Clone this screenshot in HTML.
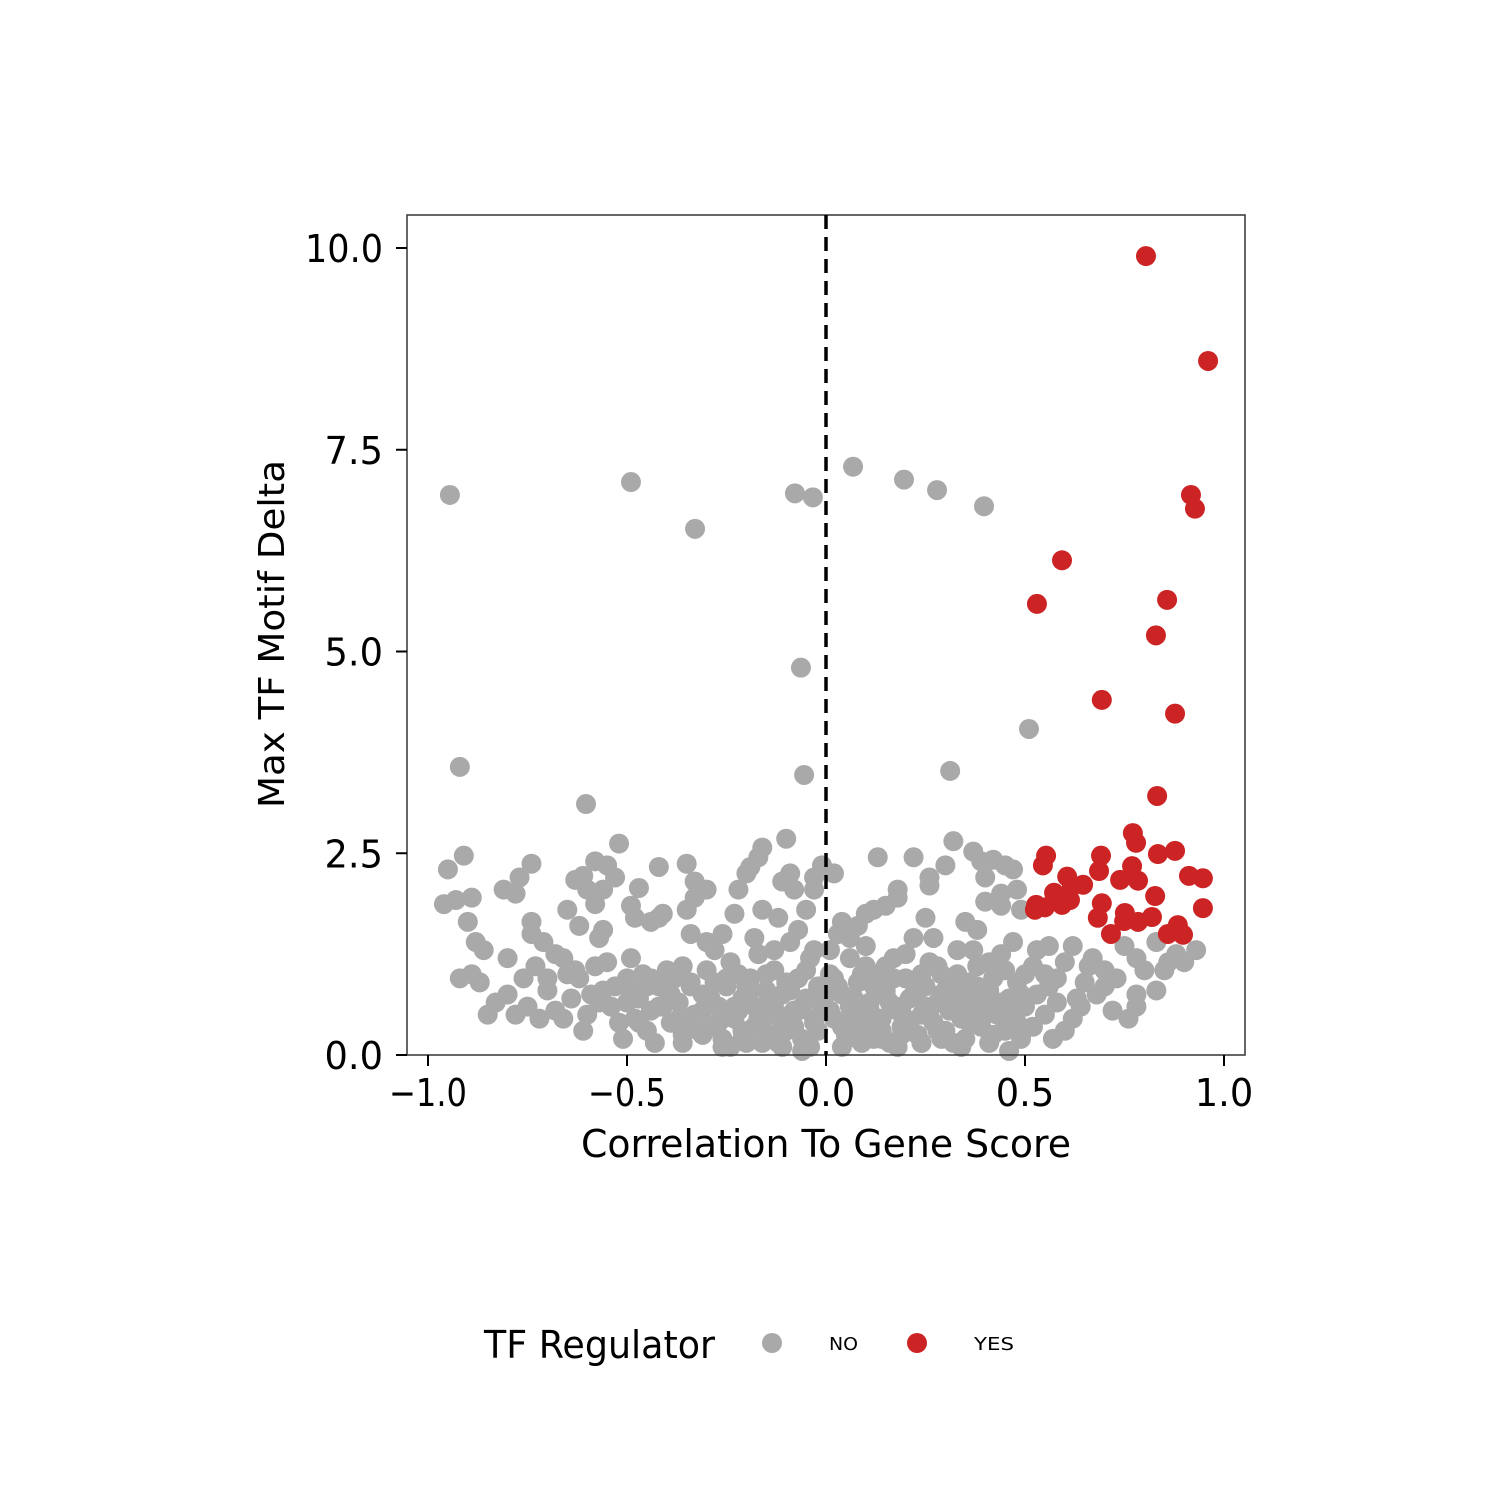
<!DOCTYPE html>
<html><head><meta charset="utf-8"><style>html,body{margin:0;padding:0;background:#fff}svg{display:block}text{font-family:"DejaVu Sans","Liberation Sans",sans-serif}</style></head>
<body>
<svg id="chart" width="1500" height="1500" xmlns="http://www.w3.org/2000/svg">
<rect width="1500" height="1500" fill="#fff"/>
<g id="points"></g>
<rect x="407" y="215" width="838" height="840" fill="none" stroke="#333" stroke-width="1.5"/>
<line x1="826" y1="215" x2="826" y2="1055" stroke="#000" stroke-width="3.5" stroke-dasharray="14,8"/>
<g id="axes"></g>
<text x="826" y="1157" font-size="38" text-anchor="middle" textLength="490" lengthAdjust="spacingAndGlyphs">Correlation To Gene Score</text>
<text transform="translate(284,634) rotate(-90)" font-size="36" text-anchor="middle" textLength="348" lengthAdjust="spacingAndGlyphs">Max TF Motif Delta</text>
<g>
<text x="484" y="1358" font-size="38" textLength="231" lengthAdjust="spacingAndGlyphs">TF Regulator</text>
<circle cx="772" cy="1343" r="10" fill="#A9A9A9"/>
<text x="829" y="1350" font-size="18" textLength="29" lengthAdjust="spacingAndGlyphs">NO</text>
<circle cx="917" cy="1343" r="10" fill="#CC2424"/>
<text x="974" y="1350" font-size="18" textLength="40" lengthAdjust="spacingAndGlyphs">YES</text>
</g>
</svg>
<script>
const xTicks = [-1.0, -0.5, 0.0, 0.5, 1.0];
const xTickLabels = ["\u22121.0", "\u22120.5", "0.0", "0.5", "1.0"];
const yTicks = [0, 2.5, 5, 7.5, 10];
const yTickLabels = ["0.0", "2.5", "5.0", "7.5", "10.0"];
const grayX = [-0.945,-0.49,-0.329,-0.078,-0.033,0.068,0.196,0.279,0.397,-0.063,0.51,-0.92,0.312,-0.055,-0.603,
-0.95,-0.96,-0.91,-0.93,-0.89,-0.90,-0.81,-0.77,-0.74,-0.78,-0.74,-0.74,-0.65,-0.63,-0.61,-0.58,-0.60,-0.58,-0.55,-0.52,-0.53,-0.56,-0.47,-0.49,-0.42,-0.41,-0.42,-0.35,-0.33,-0.30,-0.35,-0.33,-0.34,-0.30,-0.22,-0.20,-0.19,-0.17,-0.16,-0.10,-0.11,-0.09,-0.08,-0.05,-0.03,-0.03,-0.01,0.02,0.13,0.22,0.26,0.26,0.30,0.32,0.37,0.39,0.42,0.45,0.47,0.40,0.44,0.48,0.49,0.44,0.40,0.35,0.38,0.18,0.18,0.15,0.12,0.10,0.08,0.04,0.25,0.27,-0.12,-0.16,-0.23,-0.26,-0.44,-0.48,-0.56,-0.57,-0.62,-0.68,-0.71,-0.80,-0.86,-0.88,
0.53,0.56,0.62,0.67,0.70,0.75,0.78,0.80,0.83,0.86,0.88,0.90,0.93,0.85,0.83,0.78,0.76,0.78,0.72,0.70,0.65,0.63,0.62,0.60,0.58,0.56,0.55,0.52,0.50,0.53,0.55,0.58,0.66,0.68,0.73,0.57,0.52,0.60,0.64,
-0.92,-0.89,-0.87,-0.85,-0.83,-0.80,-0.78,-0.75,-0.76,-0.73,-0.70,-0.68,-0.66,-0.64,-0.62,-0.60,-0.58,-0.56,-0.54,-0.52,-0.50,-0.49,-0.47,-0.45,-0.44,-0.42,-0.40,-0.39,-0.37,-0.36,-0.34,-0.33,-0.31,-0.30,-0.29,-0.27,-0.26,-0.25,-0.24,-0.23,-0.21,-0.20,-0.19,-0.18,-0.17,-0.16,-0.15,-0.14,-0.13,-0.12,-0.11,-0.10,-0.09,-0.08,-0.07,-0.06,-0.05,-0.04,-0.03,-0.02,-0.01,
0.01,0.02,0.03,0.04,0.05,0.06,0.07,0.08,0.09,0.10,0.11,0.12,0.13,0.14,0.15,0.16,0.17,0.18,0.19,0.20,0.21,0.22,0.23,0.24,0.25,0.26,0.27,0.28,0.29,0.30,0.31,0.32,0.33,0.34,0.35,0.36,0.37,0.38,0.39,0.40,0.41,0.42,0.43,0.44,0.45,0.46,0.47,0.48,0.49,0.50,
-0.65,-0.61,-0.57,-0.53,-0.51,-0.48,-0.46,-0.43,-0.41,-0.38,-0.35,-0.32,-0.30,-0.28,-0.26,-0.24,-0.22,-0.20,-0.18,-0.16,-0.14,-0.12,-0.10,-0.08,-0.06,-0.04,-0.02,0.00,0.02,0.04,0.06,0.08,0.10,0.12,0.14,0.16,0.18,0.20,0.22,0.24,0.26,0.28,0.30,0.32,0.34,0.36,0.38,0.40,0.42,0.44,0.46,0.48,-0.70,-0.72,-0.66,-0.63,-0.59,-0.55,-0.50,-0.45,-0.40,-0.36,-0.28,-0.22,-0.18,-0.13,-0.07,-0.03,0.01,0.06,0.10,0.15,0.20,0.24,0.28,0.33,0.37,0.41,0.45,0.47,
-0.49,-0.47,-0.44,-0.42,-0.39,-0.37,-0.34,-0.31,-0.29,-0.27,-0.25,-0.23,-0.21,-0.19,-0.17,-0.15,-0.13,-0.11,-0.09,-0.07,-0.05,-0.03,-0.01,0.01,0.03,0.05,0.07,0.09,0.11,0.13,0.15,0.17,0.19,0.21,0.23,0.25,0.27,0.29,0.31,0.33,0.35,0.37,0.39,0.41,0.43,0.45,0.47,0.49,-0.36,-0.31,-0.26,-0.21,-0.16,-0.11,-0.06,0.04,0.09,0.14,0.19,0.24,0.29,0.34];
const grayY = [6.94,7.10,6.52,6.96,6.91,7.29,7.13,7.00,6.80,4.80,4.04,3.57,3.52,3.47,3.11,
2.30,1.87,2.47,1.92,1.95,1.65,2.05,2.20,2.37,2.00,1.65,1.50,1.80,2.17,2.22,2.40,2.05,1.87,2.35,2.62,2.20,2.05,2.07,1.85,1.70,1.75,2.33,2.37,2.15,2.05,1.80,1.95,1.50,1.40,2.05,2.25,2.33,2.45,2.57,2.68,2.15,2.25,2.05,1.80,2.20,2.05,2.35,2.25,2.45,2.45,2.20,2.10,2.35,2.65,2.52,2.40,2.42,2.35,2.30,2.20,2.00,2.05,1.80,1.85,1.90,1.65,1.55,1.95,2.05,1.85,1.80,1.75,1.60,1.65,1.70,1.45,1.70,1.80,1.75,1.50,1.65,1.70,1.55,1.45,1.60,1.25,1.40,1.20,1.30,1.40,
1.30,1.35,1.35,1.20,1.05,1.35,1.20,1.05,1.40,1.15,1.25,1.15,1.30,1.05,0.80,0.75,0.45,0.60,0.55,0.85,0.90,0.70,0.45,0.30,0.65,0.85,1.00,1.10,1.00,0.75,0.50,0.95,1.10,0.75,0.95,0.20,0.35,1.15,0.60,
0.95,1.00,0.90,0.50,0.65,0.75,0.50,0.60,0.95,1.10,0.80,0.55,0.45,0.70,0.95,0.50,1.10,0.80,0.60,0.40,0.95,1.20,0.70,0.30,0.55,0.85,1.05,0.40,0.65,0.25,0.90,0.50,0.75,1.05,0.35,0.60,0.20,0.85,1.15,0.45,0.70,0.15,0.95,0.35,1.25,0.60,0.80,0.25,1.05,0.50,0.75,0.30,1.40,0.55,0.95,0.20,0.70,1.20,0.40,0.85,0.60,
1.00,0.45,1.50,0.75,0.25,1.20,0.55,0.90,0.35,1.35,0.65,0.20,1.00,0.45,0.80,0.15,1.20,0.55,0.35,0.95,0.70,1.45,0.25,0.50,0.85,1.15,0.40,0.65,1.00,0.30,0.55,0.80,1.30,0.45,0.20,0.90,0.60,1.10,0.35,0.75,0.15,0.95,0.50,1.25,0.30,0.70,0.45,0.90,0.20,0.60,
1.00,0.30,0.65,0.85,0.20,0.45,1.00,0.15,0.60,0.95,0.45,0.30,0.60,0.90,0.45,0.10,0.55,0.85,0.60,0.40,0.70,0.15,0.90,0.35,0.60,0.10,0.30,0.75,0.95,0.35,0.60,0.20,0.50,0.85,0.30,0.65,0.10,0.45,0.75,0.15,0.55,0.30,0.80,0.15,0.70,0.40,0.85,0.50,0.25,0.65,0.05,0.40,0.95,0.45,1.20,1.05,0.75,1.15,0.65,0.85,0.80,1.10,1.30,1.00,1.45,1.30,1.55,1.30,1.30,1.45,1.10,1.10,1.25,1.00,1.10,1.00,1.30,1.15,1.05,1.40,
0.80,0.40,0.95,0.60,0.75,0.45,0.85,0.55,0.70,0.40,0.95,0.60,0.30,0.80,0.45,1.00,0.65,0.40,0.80,0.55,1.05,0.45,0.70,0.55,0.85,0.40,0.70,1.00,0.55,0.35,0.75,0.95,0.60,0.35,0.80,0.60,0.40,0.75,0.95,0.65,0.45,0.70,0.55,0.80,0.60,0.35,0.55,0.75,0.15,0.25,0.10,0.20,0.15,0.10,0.05,0.10,0.15,0.20,0.25,0.15,0.20,0.10];
const redX = [0.804,0.96,0.917,0.927,0.593,0.53,0.857,0.829,0.693,0.877,0.832,0.771,0.779,0.553,0.545,0.691,0.686,0.834,0.877,0.606,0.739,0.769,0.784,0.912,0.947,0.573,0.618,0.646,0.827,0.528,0.550,0.593,0.613,0.693,0.751,0.947,0.683,0.749,0.819,0.784,0.884,0.716,0.859,0.897,0.608,0.525];
const redY = [9.90,8.60,6.94,6.77,6.13,5.59,5.64,5.20,4.40,4.23,3.21,2.75,2.63,2.47,2.35,2.47,2.28,2.49,2.53,2.21,2.17,2.34,2.16,2.22,2.19,2.01,2.09,2.11,1.97,1.86,1.83,1.86,1.92,1.88,1.76,1.82,1.70,1.66,1.71,1.65,1.61,1.50,1.50,1.49,1.98,1.80];

const NS = "http://www.w3.org/2000/svg";
function sx(v){ return 826 + v * 398; }
function sy(v){ return 1055 - v * 80.7; }
const pts = document.getElementById('points');
const n = Math.min(grayX.length, grayY.length);
for (let i = 0; i < n; i++) {
  const c = document.createElementNS(NS, 'circle');
  c.setAttribute('cx', sx(grayX[i])); c.setAttribute('cy', sy(grayY[i])); c.setAttribute('r', 10); c.setAttribute('fill', '#A9A9A9');
  
  
  pts.appendChild(c);
}
for (let i = 0; i < redX.length; i++) {
  const c = document.createElementNS(NS, 'circle');
  c.setAttribute('cx', sx(redX[i])); c.setAttribute('cy', sy(redY[i])); c.setAttribute('r', 10); c.setAttribute('fill', '#CC2424');
  
  
  pts.appendChild(c);
}
const ax = document.getElementById('axes');
xTicks.forEach((t, i) => {
  const l = document.createElementNS(NS, 'line');
  l.setAttribute('x1', sx(t)); l.setAttribute('x2', sx(t)); l.setAttribute('y1', 1055); l.setAttribute('y2', 1066); l.setAttribute('stroke', '#000'); l.setAttribute('stroke-width', 2);
  
  
  ax.appendChild(l);
  const tx = document.createElementNS(NS, 'text');
  tx.setAttribute('x', sx(t)); tx.setAttribute('y', 1106); tx.setAttribute('font-size', 38); tx.setAttribute('text-anchor', 'middle');
  tx.setAttribute('textLength', xTickLabels[i].length * 19.5); tx.setAttribute('lengthAdjust', 'spacingAndGlyphs');
  tx.textContent = xTickLabels[i];
  
  
  ax.appendChild(tx);
});
yTicks.forEach((t, i) => {
  const l = document.createElementNS(NS, 'line');
  l.setAttribute('x1', 396); l.setAttribute('x2', 407); l.setAttribute('y1', sy(t)); l.setAttribute('y2', sy(t)); l.setAttribute('stroke', '#000'); l.setAttribute('stroke-width', 2);
  
  
  ax.appendChild(l);
  const tx = document.createElementNS(NS, 'text');
  tx.setAttribute('x', 383); tx.setAttribute('y', sy(t) + 14); tx.setAttribute('font-size', 38); tx.setAttribute('text-anchor', 'end');
  tx.setAttribute('textLength', yTickLabels[i].length * 19.5); tx.setAttribute('lengthAdjust', 'spacingAndGlyphs');
  tx.textContent = yTickLabels[i];
  
  
  ax.appendChild(tx);
});
</script>
</body></html>
